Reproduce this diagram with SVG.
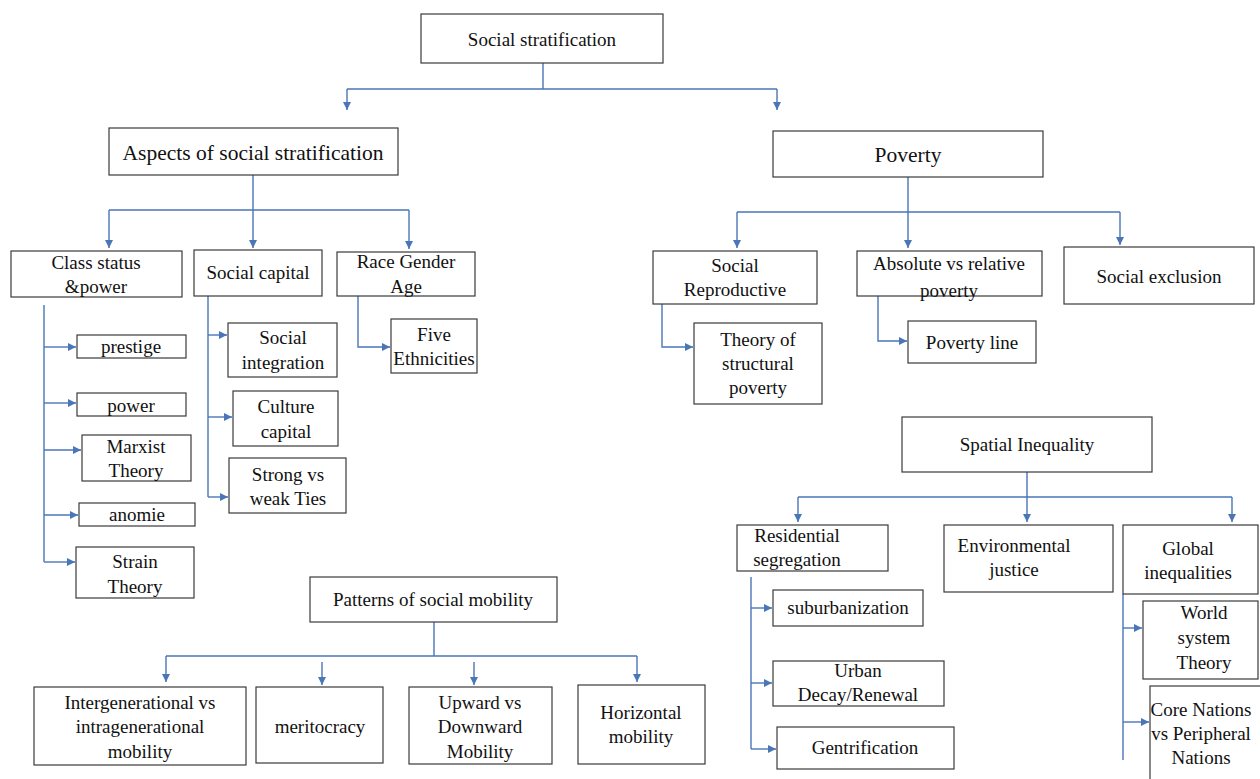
<svg xmlns="http://www.w3.org/2000/svg" width="1260" height="779" viewBox="0 0 1260 779" font-family="Liberation Serif, DejaVu Serif, serif">
<style>
.b{fill:#fff;stroke:#3a3a3a;stroke-width:1.2}
text{font-size:19px;fill:#111;text-anchor:middle}
.big{font-size:21.5px}
.c{fill:none;stroke:#4a76b8;stroke-width:1.4}
</style>
<defs>
<marker id="ah" markerUnits="userSpaceOnUse" markerWidth="10" markerHeight="10" refX="8" refY="4" orient="auto">
<path d="M0,0 L8,4 L0,8 z" fill="#4a76b8"/>
</marker>
</defs>
<rect width="1260" height="779" fill="#fff"/>
<g id="connectors">
<path class="c" d="M543,63 V89 M347,89 H777"/>
<path class="c" marker-end="url(#ah)" d="M347,89 V110"/>
<path class="c" marker-end="url(#ah)" d="M777,89 V110"/>
<path class="c" d="M253,175 V210 M109,210 H409"/>
<path class="c" marker-end="url(#ah)" d="M109,210 V248"/>
<path class="c" marker-end="url(#ah)" d="M253,210 V248"/>
<path class="c" marker-end="url(#ah)" d="M409,210 V249"/>
<path class="c" d="M44,305 V562"/>
<path class="c" marker-end="url(#ah)" d="M44,347 H76"/>
<path class="c" marker-end="url(#ah)" d="M44,403 H76"/>
<path class="c" marker-end="url(#ah)" d="M44,450 H81"/>
<path class="c" marker-end="url(#ah)" d="M44,515 H78"/>
<path class="c" marker-end="url(#ah)" d="M44,562 H75"/>
<path class="c" d="M208,296 V497"/>
<path class="c" marker-end="url(#ah)" d="M208,335 H227"/>
<path class="c" marker-end="url(#ah)" d="M208,417 H232"/>
<path class="c" marker-end="url(#ah)" d="M208,497 H228"/>
<path class="c" marker-end="url(#ah)" d="M358,296 V347 H390"/>
<path class="c" d="M908,177 V212 M737,212 H1120"/>
<path class="c" marker-end="url(#ah)" d="M737,212 V248"/>
<path class="c" marker-end="url(#ah)" d="M908,212 V248"/>
<path class="c" marker-end="url(#ah)" d="M1120,212 V245"/>
<path class="c" marker-end="url(#ah)" d="M662,304 V347 H693"/>
<path class="c" marker-end="url(#ah)" d="M878,296 V341 H907"/>
<path class="c" d="M1027,472 V497 M798,497 H1232"/>
<path class="c" marker-end="url(#ah)" d="M798,497 V522"/>
<path class="c" marker-end="url(#ah)" d="M1027,497 V522"/>
<path class="c" marker-end="url(#ah)" d="M1232,497 V522"/>
<path class="c" d="M751,577 V749"/>
<path class="c" marker-end="url(#ah)" d="M751,608 H772"/>
<path class="c" marker-end="url(#ah)" d="M751,683 H772"/>
<path class="c" marker-end="url(#ah)" d="M751,749 H776"/>
<path class="c" d="M1123,594 V760"/>
<path class="c" marker-end="url(#ah)" d="M1123,628 H1142"/>
<path class="c" marker-end="url(#ah)" d="M1123,722 H1149"/>
<path class="c" d="M434,622 V656 M166,656 H637"/>
<path class="c" marker-end="url(#ah)" d="M166,656 V682"/>
<path class="c" marker-end="url(#ah)" d="M322,662 V685"/>
<path class="c" marker-end="url(#ah)" d="M474,662 V685"/>
<path class="c" marker-end="url(#ah)" d="M637,656 V682"/>
</g>
<g id="social-stratification"><rect class="b" x="421" y="14" width="242" height="49"/><text x="542" y="46">Social stratification</text></g>
<g id="aspects"><rect class="b" x="109" y="128" width="289" height="47"/><text class="big" x="253" y="160">Aspects of social stratification</text></g>
<g id="poverty"><rect class="b" x="773" y="131" width="270" height="46"/><text class="big" x="908" y="162">Poverty</text></g>
<g id="class-status"><rect class="b" x="11" y="251" width="171" height="46"/><text x="96" y="269">Class status</text><text x="96" y="293">&amp;power</text></g>
<g id="social-capital"><rect class="b" x="194" y="250" width="128" height="46"/><text x="258" y="279">Social capital</text></g>
<g id="race-gender-age"><rect class="b" x="337" y="252" width="138" height="44"/><text x="406" y="268">Race Gender</text><text x="406" y="293">Age</text></g>
<g id="prestige"><rect class="b" x="77" y="335" width="109" height="23"/><text x="131" y="353">prestige</text></g>
<g id="power"><rect class="b" x="77" y="393" width="109" height="23"/><text x="131" y="412">power</text></g>
<g id="marxist"><rect class="b" x="82" y="435" width="109" height="46"/><text x="136" y="453">Marxist</text><text x="136" y="477">Theory</text></g>
<g id="anomie"><rect class="b" x="79" y="503" width="116" height="23"/><text x="137" y="521">anomie</text></g>
<g id="strain"><rect class="b" x="76" y="547" width="118" height="51"/><text x="135" y="568">Strain</text><text x="135" y="593">Theory</text></g>
<g id="social-integration"><rect class="b" x="228" y="323" width="109" height="54"/><text x="283" y="344">Social</text><text x="283" y="369">integration</text></g>
<g id="culture-capital"><rect class="b" x="233" y="391" width="105" height="55"/><text x="286" y="413">Culture</text><text x="286" y="438">capital</text></g>
<g id="strong-weak"><rect class="b" x="229" y="458" width="117" height="55"/><text x="288" y="481">Strong vs</text><text x="288" y="505">weak Ties</text></g>
<g id="five-ethnicities"><rect class="b" x="391" y="319" width="86" height="54"/><text x="434" y="341">Five</text><text x="434" y="365">Ethnicities</text></g>
<g id="social-reproductive"><rect class="b" x="653" y="251" width="164" height="53"/><text x="735" y="272">Social</text><text x="735" y="296">Reproductive</text></g>
<g id="absolute-relative"><rect class="b" x="857" y="251" width="185" height="45"/><text x="949" y="270">Absolute vs relative</text><text x="949" y="297">poverty</text></g>
<g id="social-exclusion"><rect class="b" x="1064" y="247" width="190" height="57"/><text x="1159" y="283">Social exclusion</text></g>
<g id="structural-poverty"><rect class="b" x="694" y="323" width="128" height="81"/><text x="758" y="346">Theory of</text><text x="758" y="370">structural</text><text x="758" y="394">poverty</text></g>
<g id="poverty-line"><rect class="b" x="908" y="321" width="128" height="42"/><text x="972" y="349">Poverty line</text></g>
<g id="spatial-inequality"><rect class="b" x="902" y="417" width="250" height="55"/><text x="1027" y="451">Spatial Inequality</text></g>
<g id="residential"><rect class="b" x="737" y="525" width="151" height="46"/><text x="797" y="542">Residential</text><text x="797" y="566">segregation</text></g>
<g id="environmental"><rect class="b" x="944" y="525" width="169" height="67"/><text x="1014" y="552">Environmental</text><text x="1014" y="576">justice</text></g>
<g id="global"><rect class="b" x="1123" y="525" width="135" height="69"/><text x="1188" y="555">Global</text><text x="1188" y="579">inequalities</text></g>
<g id="suburbanization"><rect class="b" x="773" y="590" width="150" height="36"/><text x="848" y="614">suburbanization</text></g>
<g id="urban"><rect class="b" x="773" y="661" width="171" height="45"/><text x="858" y="677">Urban</text><text x="858" y="701">Decay/Renewal</text></g>
<g id="gentrification"><rect class="b" x="777" y="727" width="177" height="42"/><text x="865" y="754">Gentrification</text></g>
<g id="world-system"><rect class="b" x="1143" y="601" width="115" height="78"/><text x="1204" y="619">World</text><text x="1204" y="644">system</text><text x="1204" y="669">Theory</text></g>
<g id="core-nations"><rect class="b" x="1150" y="686" width="130" height="100"/><text x="1201" y="716">Core Nations</text><text x="1201" y="740">vs Peripheral</text><text x="1201" y="764">Nations</text></g>
<g id="patterns"><rect class="b" x="310" y="577" width="247" height="45"/><text x="433" y="606">Patterns of social mobility</text></g>
<g id="intergenerational"><rect class="b" x="34" y="687" width="212" height="78"/><text x="140" y="709">Intergenerational vs</text><text x="140" y="733">intragenerational</text><text x="140" y="758">mobility</text></g>
<g id="meritocracy"><rect class="b" x="256" y="687" width="127" height="76"/><text x="320" y="733">meritocracy</text></g>
<g id="upward"><rect class="b" x="409" y="687" width="143" height="77"/><text x="480" y="709">Upward vs</text><text x="480" y="733">Downward</text><text x="480" y="758">Mobility</text></g>
<g id="horizontal"><rect class="b" x="578" y="685" width="127" height="79"/><text x="641" y="719">Horizontal</text><text x="641" y="743">mobility</text></g>
</svg>
